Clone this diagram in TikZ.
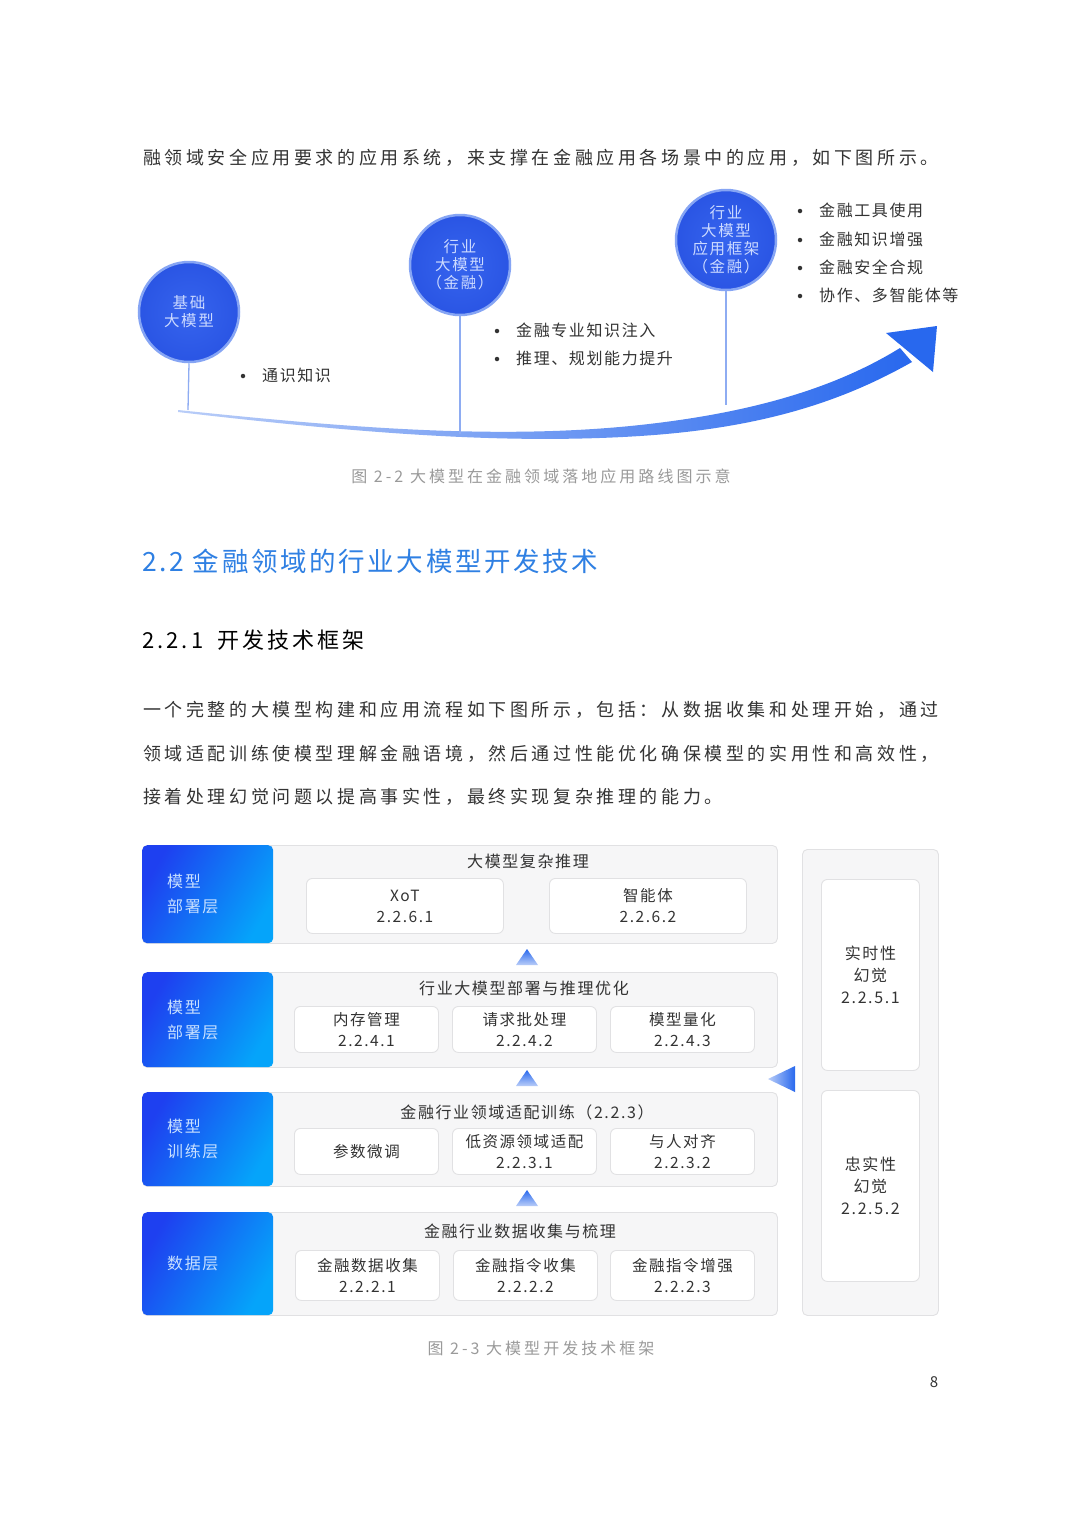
\documentclass[tikz,border=0pt]{standalone}
\usepackage{fontspec}
\setmainfont{Noto Sans CJK SC}[LetterSpace=20]
\newfontfamily\bxf{Noto Sans CJK SC}[LetterSpace=10]
\newfontfamily\cpf{Noto Sans CJK SC}[LetterSpace=19]
\newfontfamily\hdf{Noto Sans CJK SC}[LetterSpace=10]
\newfontfamily\hdg{Noto Sans CJK SC}[LetterSpace=14]
\usetikzlibrary{calc}
\definecolor{txt}{HTML}{333333}
\definecolor{captxt}{HTML}{9A9A9A}
\definecolor{hblue}{HTML}{2F80E3}
\definecolor{cin}{HTML}{3664EE}
\definecolor{cout}{HTML}{2A55E4}
\definecolor{cglow}{HTML}{86A5F4}
\definecolor{ctext}{HTML}{CCDAFF}
\definecolor{lineblue}{HTML}{8EACF2}
\definecolor{panelfill}{HTML}{F6F6F7}
\definecolor{pborder}{HTML}{E1E1E3}
\definecolor{dkblue}{HTML}{1E40F0}
\definecolor{ltblue}{HTML}{05A4FA}
\definecolor{lbltext}{HTML}{C8E0FF}
\definecolor{arrdark}{HTML}{2868EE}
\definecolor{arrlight}{HTML}{B9CDF8}
\begin{document}
\begin{tikzpicture}[x=1pt,y=-1pt,
  para/.style={anchor=west,inner sep=0,text=txt,font=\fontsize{18}{18}\selectfont},
  circ/.style={circle,minimum size=100pt,inner sep=0,inner color=cin,outer color=cout,
     draw=cglow,line width=2.5pt,text=ctext,align=center,font=\bxf\fontsize{15.5}{18}\selectfont},
  vline/.style={draw=lineblue,line width=1.3pt},
  bdot/.style={circle,fill=txt,minimum size=4.5pt,inner sep=0},
  btxt/.style={anchor=west,inner sep=0,text=txt,font=\bxf\fontsize{16}{16}\selectfont},
  capt/.style={inner sep=0,text=captxt,font=\cpf\fontsize{16}{16}\selectfont},
  panelbox/.style={anchor=north west,rectangle,rounded corners=5pt,fill=panelfill,draw=pborder,line width=0.9pt,inner sep=0},
  lblbox/.style={anchor=north west,rectangle,rounded corners=5pt,left color=dkblue,right color=ltblue,shading angle=60,
     minimum width=131pt,text width=81pt,inner xsep=25pt,align=left,text=lbltext,font=\bxf\fontsize{16}{25}\selectfont},
  ibox/.style={anchor=north west,rectangle,rounded corners=6pt,fill=white,draw=pborder,line width=0.9pt,inner sep=0,
     align=center,text=txt,font=\bxf\fontsize{15.5}{21}\selectfont},
  rtitle/.style={inner sep=0,text=txt,font=\bxf\fontsize{16}{16}\selectfont},
  uptri/.style={top color=arrdark,bottom color=arrlight}
]
\useasboundingbox (0,0) rectangle (1080,1527);
\fill[white] (0,0) rectangle (1080,1527);

% ---------- top paragraph
\node[para] (p0) at (143,158) {融领域安全应用要求的应用系统，来支撑在金融应用各场景中的应用，如下图所示。};

% ---------- roadmap curve
\shade[left color=arrlight,right color=arrdark]
  (178,410) .. controls (350,428) and (500,440) .. (640,425)
  .. controls (760,412) and (840,385) .. (900,348)
  -- (912,362)
  .. controls (845,400) and (765,428) .. (640,436)
  .. controls (500,445) and (350,432) .. (178,412) -- cycle;
\fill[arrdark] (886,333) -- (937,326) -- (933,372) -- cycle;

\coordinate (e1) at (188,410);
\coordinate (e2) at (460,434);
\coordinate (e3) at (726,405);

\node[circ] (c1) at (189,312) {基础\\大模型};
\node[circ] (c2) at (460,265) {行业\\大模型\\（金融）};
\node[circ] (c3) at (726,240) {行业\\大模型\\应用框架\\（金融）};

\draw[vline] (c1.south) -- (e1);
\draw[vline] (c2.south) -- (e2);
\draw[vline] (c3.south) -- (e3);

\node[bdot] (d1) at (243,376) {};
\node[btxt] (b1) at (262,375) {通识知识};
\node[bdot] (d2) at (497,331) {};
\node[btxt] (b2) at (516,330) {金融专业知识注入};
\node[bdot] (d3) at (497,359) {};
\node[btxt] (b3) at (516,358) {推理、规划能力提升};
\node[bdot] (d4) at (800,211) {};
\node[btxt] (b4) at (819,210) {金融工具使用};
\node[bdot] (d5) at (800,240) {};
\node[btxt] (b5) at (819,239) {金融知识增强};
\node[bdot] (d6) at (800,268) {};
\node[btxt] (b6) at (819,267) {金融安全合规};
\node[bdot] (d7) at (800,296) {};
\node[btxt] (b7) at (819,295) {协作、多智能体等};

\node[capt] (cap2) at (541,476) {图 2-2 大模型在金融领域落地应用路线图示意};

% ---------- headings and paragraph
\node[anchor=west,inner sep=0,text=hblue,font=\hdf\fontsize{26.5}{26.5}\selectfont] (h22) at (142,561) {2.2 金融领域的行业大模型开发技术};
\node[anchor=west,inner sep=0,text=black,font=\hdg\fontsize{22}{22}\selectfont] (h221) at (142,640) {2.2.1\hspace{6pt} 开发技术框架};

\node[para] (p1) at (143,710) {一个完整的大模型构建和应用流程如下图所示，包括：从数据收集和处理开始，通过};
\node[para] (p2) at (143,754) {领域适配训练使模型理解金融语境，然后通过性能优化确保模型的实用性和高效性，};
\node[para] (p3) at (143,797) {接着处理幻觉问题以提高事实性，最终实现复杂推理的能力。};

% ---------- framework: row panels
\node[panelbox,minimum width=635pt,minimum height=98pt] (r1) at (142,845) {};
\node[panelbox,minimum width=635pt,minimum height=95pt] (r2) at (142,972) {};
\node[panelbox,minimum width=635pt,minimum height=94pt] (r3) at (142,1092) {};
\node[panelbox,minimum width=635pt,minimum height=103pt] (r4) at (142,1212) {};

\node[lblbox,minimum height=98pt] (l1) at (142,845) {模型\\部署层};
\node[lblbox,minimum height=95pt] (l2) at (142,972) {模型\\部署层};
\node[lblbox,minimum height=94pt] (l3) at (142,1092) {模型\\训练层};
\node[lblbox,minimum height=103pt] (l4) at (142,1212) {数据层};

% row 1
\node[rtitle] (t1) at (528,861) {大模型复杂推理};
\node[ibox,minimum width=197pt,minimum height=55pt] (x1) at (306,878) {XoT\\2.2.6.1};
\node[ibox,minimum width=197pt,minimum height=55pt] (x2) at (549,878) {智能体\\2.2.6.2};
% row 2
\node[rtitle] (t2) at (524,988) {行业大模型部署与推理优化};
\node[ibox,minimum width=144pt,minimum height=46pt] (y1) at (294,1006) {内存管理\\2.2.4.1};
\node[ibox,minimum width=144pt,minimum height=46pt] (y2) at (452,1006) {请求批处理\\2.2.4.2};
\node[ibox,minimum width=144pt,minimum height=46pt] (y3) at (610,1006) {模型量化\\2.2.4.3};
% row 3
\node[rtitle] (t3) at (527,1112) {金融行业领域适配训练（2.2.3）};
\node[ibox,minimum width=144pt,minimum height=46pt] (z1) at (294,1128) {参数微调};
\node[ibox,minimum width=144pt,minimum height=46pt] (z2) at (452,1128) {低资源领域适配\\2.2.3.1};
\node[ibox,minimum width=144pt,minimum height=46pt] (z3) at (610,1128) {与人对齐\\2.2.3.2};
% row 4
\node[rtitle] (t4) at (520,1231) {金融行业数据收集与梳理};
\node[ibox,minimum width=144pt,minimum height=50pt] (w1) at (295,1250) {金融数据收集\\2.2.2.1};
\node[ibox,minimum width=144pt,minimum height=50pt] (w2) at (453,1250) {金融指令收集\\2.2.2.2};
\node[ibox,minimum width=144pt,minimum height=50pt] (w3) at (610,1250) {金融指令增强\\2.2.2.3};

% up triangles between rows
\shade[uptri] (516,965) -- (527,949) -- (538,965) -- cycle;
\shade[uptri] (516,1086) -- (527,1070) -- (538,1086) -- cycle;
\shade[uptri] (516,1206) -- (527,1190) -- (538,1206) -- cycle;

% right panel
\node[panelbox,minimum width=136pt,minimum height=466pt] (rp) at (802,849) {};
\node[ibox,minimum width=98pt,minimum height=191pt,font=\bxf\fontsize{16}{22}\selectfont] (hh1) at (821,879) {实时性\\幻觉\\2.2.5.1};
\node[ibox,minimum width=98pt,minimum height=191pt,font=\bxf\fontsize{16}{22}\selectfont] (hh2) at (821,1090) {忠实性\\幻觉\\2.2.5.2};

\shade[left color=arrlight,right color=arrdark] (768,1079) -- (795,1066) -- (795,1092) -- cycle;

\node[capt] (cap3) at (541,1348) {图 2-3 大模型开发技术框架};
\node[inner sep=0,text=txt,font=\fontsize{15}{15}\selectfont] (pg) at (934,1382) {8};
\end{tikzpicture}
\end{document}
